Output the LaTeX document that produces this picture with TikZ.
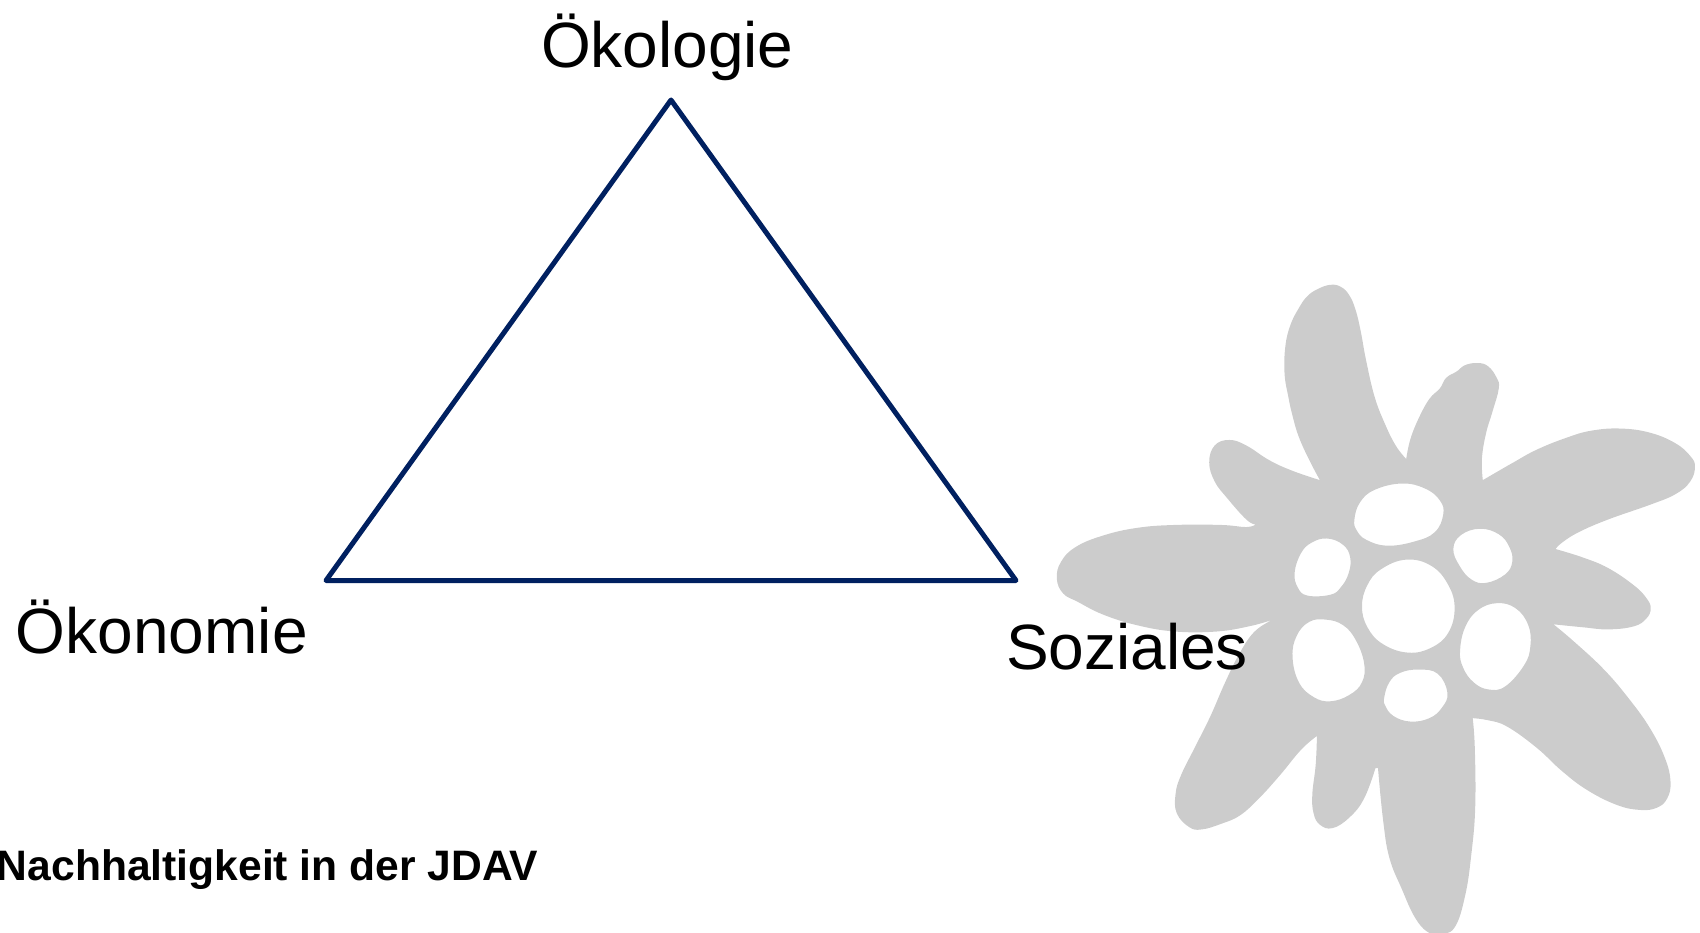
\documentclass[tikz,border=0pt]{standalone}
\usepackage{fontspec}
\setmainfont{Liberation Sans}
\definecolor{tribl}{HTML}{002060}
\definecolor{flowergrey}{HTML}{CCCCCC}
\tikzset{
  lab/.style={anchor=base west,inner sep=0pt,outer sep=0pt,text=black,font=\fontsize{64}{70}\selectfont},
  titlelab/.style={anchor=base west,inner sep=0pt,outer sep=0pt,text=black,font=\fontsize{42.6}{50}\selectfont\bfseries},
  tri/.style={draw=tribl,line width=5pt,line join=round,line cap=round},
  petal/.style={smooth,tension=.7},
  hole/.style={smooth cycle,tension=.7}
}
\begin{document}
\begin{tikzpicture}[x=1pt,y=-1pt]
\useasboundingbox (0,0) rectangle (1700,933);
\begin{scope}[shift={(1040,270)},x=0.4209pt,y=-0.4228pt]
\fill[flowergrey,even odd rule]
 plot[petal] coordinates {(665,497)(640,450)(615,395)(600,345)(590,300)(581,245)(583,180)(595,130)(615,90)(635,62)(660,45)(690,35)(715,40)(735,60)(750,95)(762,145)(775,215)(795,300)(820,365)(845,415)(870,447)}
 -- plot[petal] coordinates {(870,447)(880,400)(900,350)(925,305)(950,280)(965,255)(990,240)(1010,225)(1040,220)(1065,228)(1085,255)(1090,280)(1075,335)(1060,385)(1050,445)(1052,497)}
 -- plot[petal] coordinates {(1052,497)(1090,475)(1125,455)(1180,425)(1250,397)(1310,380)(1380,375)(1450,385)(1510,410)(1545,440)(1556,465)(1545,500)(1510,530)(1450,555)(1350,590)(1280,620)(1240,645)(1225,660)}
 -- plot[petal] coordinates {(1225,660)(1290,680)(1350,705)(1410,745)(1440,775)(1451,800)(1440,825)(1410,843)(1350,850)(1290,845)(1220,838)}
 -- plot[petal] coordinates {(1220,838)(1270,880)(1340,945)(1400,1015)(1450,1085)(1485,1155)(1498,1210)(1490,1250)(1465,1272)(1425,1277)(1370,1265)(1300,1230)(1240,1185)(1180,1130)(1110,1080)(1065,1065)(1028,1060)}
 -- plot[petal] coordinates {(1028,1060)(1033,1130)(1034,1270)(1025,1380)(1010,1480)(985,1555)(950,1570)(920,1565)(890,1530)(860,1465)(830,1390)(815,1300)(803,1178)}
 -- plot[petal] coordinates {(797,1178)(770,1250)(735,1295)(695,1320)(665,1312)(650,1285)(647,1240)(655,1170)(658,1102)}
 -- plot[petal] coordinates {(658,1102)(620,1135)(570,1195)(520,1250)(475,1290)(430,1310)(385,1323)(355,1318)(325,1285)(322,1240)(335,1195)(370,1125)(405,1055)(440,975)(475,905)(510,855)(553,827)}
 -- plot[petal] coordinates {(553,827)(500,842)(420,855)(320,855)(230,840)(150,815)(90,785)(55,765)(40,730)(50,690)(85,655)(150,628)(230,610)(320,603)(430,603)(490,608)(512,602)}
 -- plot[petal] coordinates {(512,602)(490,590)(445,540)(415,500)(402,455)(415,415)(450,402)(490,415)(545,450)(600,475)(665,497)}
 -- cycle
 plot[hole] coordinates {(747,590)(760,550)(795,520)(860,505)(915,517)(950,545)(958,578)(938,620)(890,642)(825,652)(775,638)(752,615)}
 plot[hole] coordinates {(982,660)(1000,627)(1045,612)(1090,625)(1115,655)(1122,690)(1105,720)(1060,740)(1025,732)(997,700)}
 plot[hole] coordinates {(605,715)(620,670)(645,645)(682,635)(720,650)(737,680)(733,718)(715,750)(690,768)(635,770)(612,750)}
 plot[hole] coordinates {(765,795)(778,745)(810,708)(870,685)(930,700)(970,745)(985,800)(970,858)(930,893)(875,905)(815,885)(778,845)}
 plot[hole] coordinates {(998,900)(1010,845)(1040,805)(1085,788)(1130,800)(1160,840)(1165,890)(1150,935)(1105,985)(1065,992)(1030,975)(1005,940)}
 plot[hole] coordinates {(600,915)(610,865)(640,832)(680,827)(720,840)(750,875)(770,930)(765,975)(735,1005)(690,1020)(650,1010)(615,975)}
 plot[hole] coordinates {(818,1010)(830,975)(855,953)(900,945)(945,955)(968,1000)(955,1035)(925,1060)(880,1068)(840,1055)(820,1030)};
\end{scope}
\coordinate (apex) at (671,100);
\coordinate (left) at (326,580.5);
\coordinate (right) at (1016,580.5);
\draw[tri] (apex) -- (right) -- (left) -- cycle;
\node[lab] (oekologie) at (541,68) {Ökologie};
\node[lab] (oekonomie) at (16,653.5) {Ökonomie};
\node[lab] (soziales) at (1006,669) {Soziales};
\node[titlelab] (titel) at (-3,880) {Nachhaltigkeit in der JDAV};
\end{tikzpicture}
\end{document}
